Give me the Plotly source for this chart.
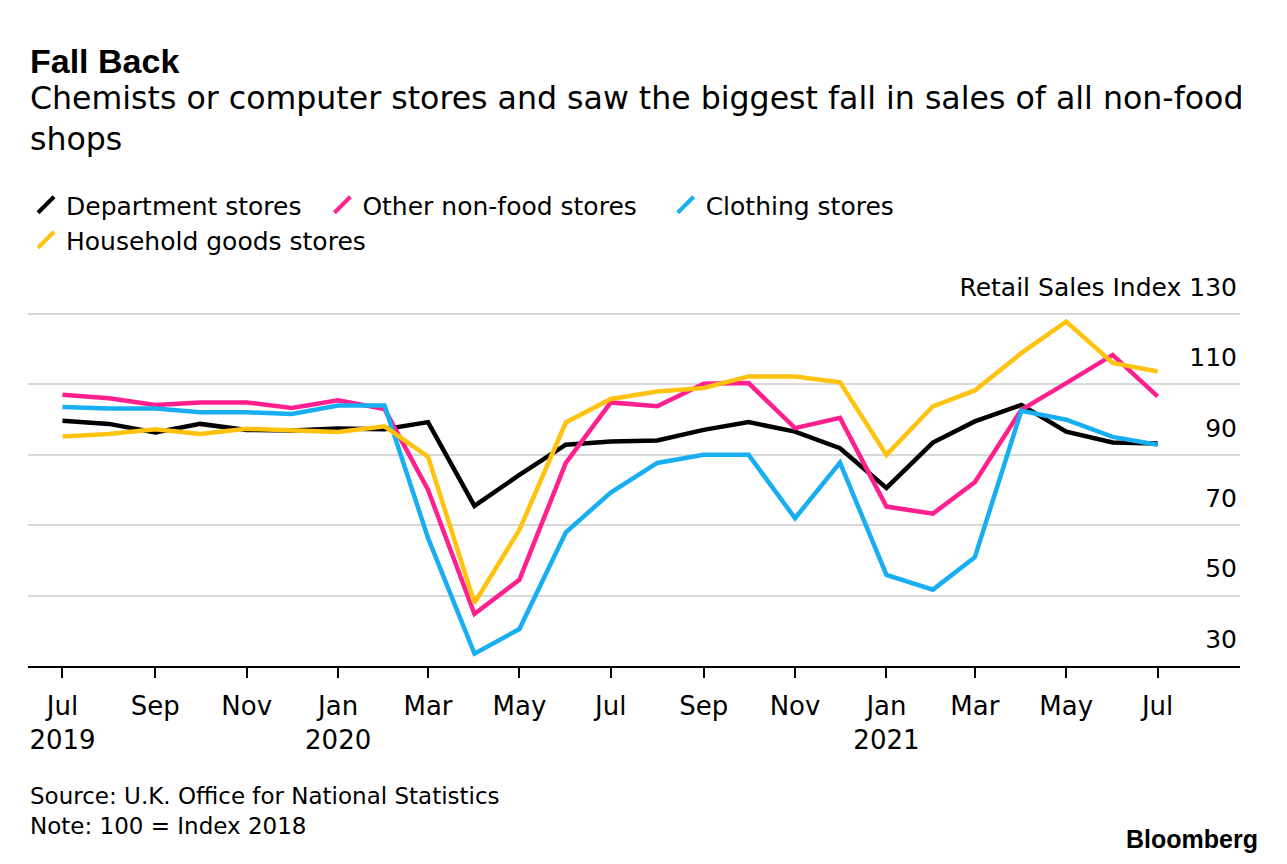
import plotly.graph_objects as go

# ---------------- data ----------------
months = [
    "2019-07-01", "2019-08-01", "2019-09-01", "2019-10-01", "2019-11-01", "2019-12-01",
    "2020-01-01", "2020-02-01", "2020-03-01", "2020-04-01", "2020-05-01", "2020-06-01",
    "2020-07-01", "2020-08-01", "2020-09-01", "2020-10-01", "2020-11-01", "2020-12-01",
    "2021-01-01", "2021-02-01", "2021-03-01", "2021-04-01", "2021-05-01", "2021-06-01",
    "2021-07-01",
]

department = [99.7, 98.8, 96.4, 98.8, 97.1, 96.9, 97.5, 97.3, 99.3, 75.5, 84.3, 92.9,
              93.8, 94.1, 97.1, 99.3, 96.6, 91.9, 80.6, 93.5, 99.5, 104.2, 96.6, 93.5, 93.2]
other_nonfood = [107.1, 106.1, 104.2, 104.9, 104.9, 103.3, 105.5, 103.0, 80.1, 44.8, 54.5, 87.7,
                 104.9, 103.8, 110.2, 110.4, 97.6, 100.5, 75.3, 73.3, 82.2, 102.8, 110.4, 118.4, 106.6]
clothing = [103.6, 103.2, 103.2, 102.1, 102.1, 101.6, 104.0, 104.0, 66.4, 33.5, 40.5, 68.0,
            79.3, 87.7, 90.0, 90.0, 72.0, 87.8, 55.9, 51.7, 60.9, 102.5, 100.0, 95.1, 92.9]
household = [95.2, 95.9, 97.3, 95.9, 97.4, 96.9, 96.5, 98.1, 89.5, 47.9, 68.7, 99.2,
             105.9, 108.0, 109.0, 112.3, 112.3, 110.6, 90.0, 103.8, 108.3, 118.9, 127.9, 116.1, 113.7]

series_names = ["Department stores", "Other non-food stores", "Clothing stores", "Household goods stores"]
series_values = [department, other_nonfood, clothing, household]
series_colors = ["#000000", "#FF1F8E", "#17AEF2", "#FFC20E"]
legend_rows = ["legend", "legend", "legend", "legend2"]
legend_pad = [2, 3, 0, 0]  # trailing non-breaking spaces to widen entry gaps

x_tick_vals = ["2019-07-01", "2019-09-01", "2019-11-01", "2020-01-01", "2020-03-01", "2020-05-01",
               "2020-07-01", "2020-09-01", "2020-11-01", "2021-01-01", "2021-03-01", "2021-05-01",
               "2021-07-01"]
x_tick_text = ["Jul<br>2019", "Sep", "Nov", "Jan<br>2020", "Mar", "May",
               "Jul", "Sep", "Nov", "Jan<br>2021", "Mar", "May", "Jul"]

y_tick_vals = [30, 50, 70, 90, 110, 130]
y_tick_text = ["30", "50", "70", "90", "110", "Retail Sales Index 130"]

title_text = "Fall Back"
subtitle_text = "Chemists or computer stores and saw the biggest fall in sales of all non-food<br>shops"
source_text = "Source: U.K. Office for National Statistics<br>Note: 100 = Index 2018"
brand_text = "Bloomberg"

# ---------------- figure ----------------
REG = "DejaVu Sans"
BOLD = "Liberation Sans"

W, H = 1287, 864
M_L, M_R, M_T, M_B = 28, 47, 312, 198
PLOT_H = H - M_T - M_B


def py(px):
    """pixel row -> paper y"""
    return (H - M_B - px) / PLOT_H


def pxx(px):
    """pixel column -> paper x"""
    return (px - M_L) / (W - M_L - M_R)


fig = go.Figure()

for name, vals, col in zip(series_names, series_values, series_colors):
    fig.add_trace(go.Scatter(
        x=months, y=vals, mode="lines", name=name,
        line=dict(color=col, width=4.5),
        showlegend=False, hoverinfo="skip",
    ))

# legend entries with slanted glyphs
for name, col, lg, pad in zip(series_names, series_colors, legend_rows, legend_pad):
    fig.add_trace(go.Scatter(
        x=[None], y=[None], mode="markers", name=name + "\u00a0" * pad, legend=lg,
        marker=dict(symbol="line-ne", size=16, color=col, line=dict(color=col, width=4)),
        showlegend=True, hoverinfo="skip",
    ))

legend_style = dict(
    orientation="h", x=pxx(26), xanchor="left", yanchor="top",
    font=dict(family=REG, size=25, color="#000000"),
    itemsizing="trace", bgcolor="rgba(0,0,0,0)", traceorder="normal",
)

fig.update_layout(
    width=W, height=H,
    margin=dict(l=M_L, r=M_R, t=M_T, b=M_B, autoexpand=False),
    paper_bgcolor="white", plot_bgcolor="white",
    hovermode=False,
    font=dict(family=REG, color="#000000"),
    showlegend=True,
    legend=dict(y=py(182), **legend_style),
    legend2=dict(y=py(217), **legend_style),
    xaxis=dict(
        type="date", range=["2019-06-08", "2021-08-25"],
        tickmode="array", tickvals=x_tick_vals, ticktext=x_tick_text,
        ticks="outside", ticklen=10, tickwidth=2, tickcolor="#000000",
        showline=True, linecolor="#000000", linewidth=2,
        showgrid=False, zeroline=False,
        tickfont=dict(family=REG, size=26, color="#000000"),
        ticklabelstandoff=6,
    ),
    yaxis=dict(
        range=[30, 130.6], side="right",
        tickmode="array", tickvals=y_tick_vals, ticktext=y_tick_text,
        ticks="", showline=False, zeroline=False,
        showgrid=True, gridcolor="#D9D9D9", gridwidth=2,
        ticklabelposition="inside", ticklabelshift=-27, ticklabeloverflow="allow",
        ticklabelstandoff=0,
        tickfont=dict(family=REG, size=25, color="#000000"),
    ),
    annotations=[
        dict(text="<b>" + title_text + "</b>", xref="paper", yref="paper", x=0, y=py(61),
             xanchor="left", yanchor="middle", showarrow=False,
             font=dict(family=BOLD, size=34, color="#000000")),
        dict(text=subtitle_text, xref="paper", yref="paper", x=0, y=py(118),
             xanchor="left", yanchor="middle", showarrow=False, align="left",
             font=dict(family=REG, size=31.6, color="#000000")),
        dict(text=source_text, xref="paper", yref="paper", x=0, y=py(811),
             xanchor="left", yanchor="middle", showarrow=False, align="left",
             font=dict(family=REG, size=23, color="#000000")),
        dict(text="<b>" + brand_text + "</b>", xref="paper", yref="paper", x=pxx(1260), y=py(839),
             xanchor="right", yanchor="middle", showarrow=False,
             font=dict(family=BOLD, size=25, color="#000000")),
    ],
)

fig.write_html("out.html", config={"displayModeBar": False},
               post_script="document.body.style.margin='0';")
